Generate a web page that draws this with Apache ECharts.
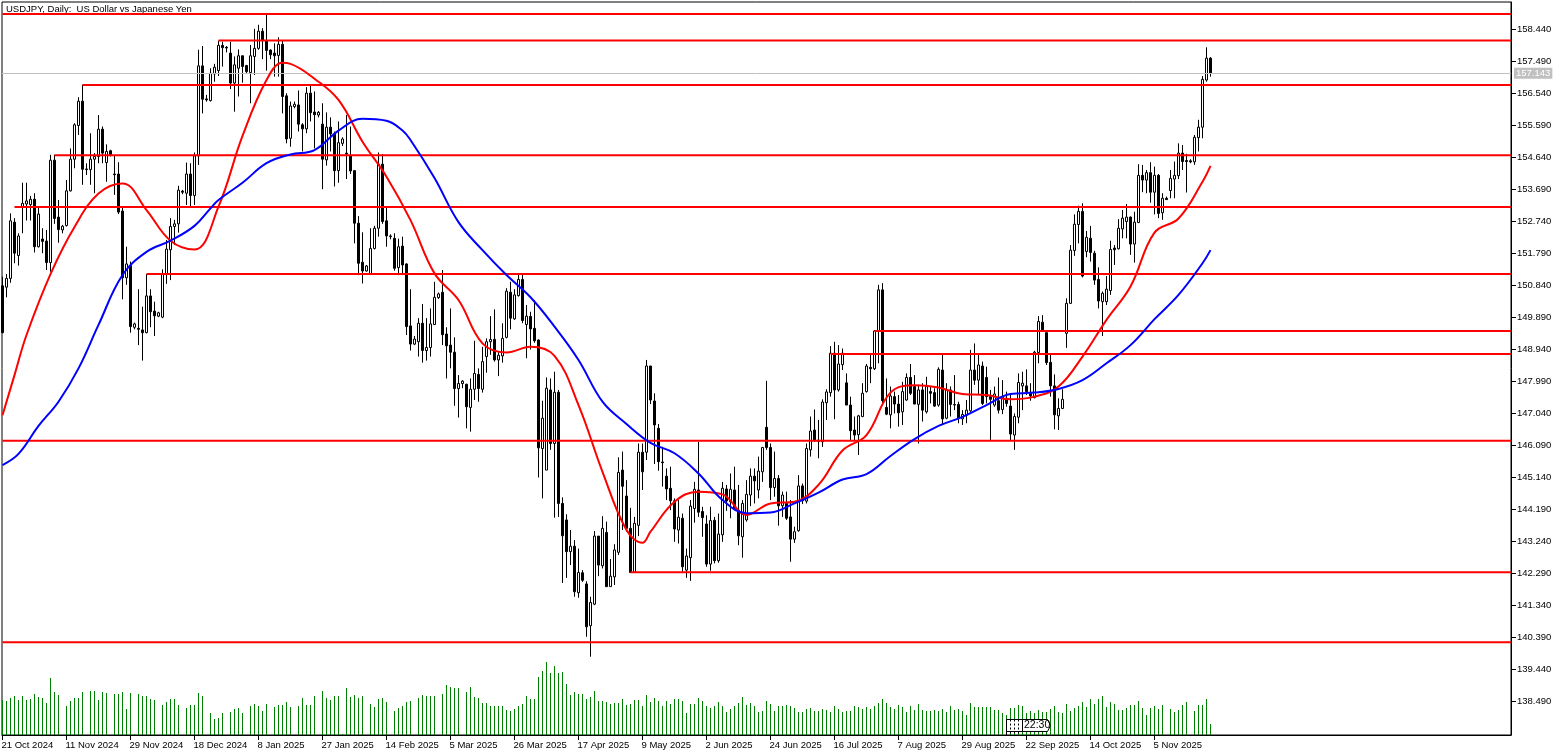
<!DOCTYPE html>
<html>
<head>
<meta charset="utf-8">
<title>USDJPY, Daily</title>
<script src="https://cdn.jsdelivr.net/npm/echarts@6/dist/echarts.min.js"></script>
<style>
  html, body { margin: 0; padding: 0; background: #fff; }
  #chart { width: 1563px; height: 756px; }
</style>
</head>
<body>
<div id="chart"></div>
<script>
const dateTicks = ['21 Oct 2024', '11 Nov 2024', '29 Nov 2024', '18 Dec 2024', '8 Jan 2025', '27 Jan 2025',
  '14 Feb 2025', '5 Mar 2025', '26 Mar 2025', '17 Apr 2025', '9 May 2025', '2 Jun 2025', '24 Jun 2025',
  '16 Jul 2025', '7 Aug 2025', '29 Aug 2025', '22 Sep 2025', '14 Oct 2025', '5 Nov 2025']
const priceTicks = [158.44, 157.49, 156.54, 155.59, 154.64, 153.69, 152.74, 151.79, 150.84, 149.89, 148.94,
  147.99, 147.04, 146.09, 145.14, 144.19, 143.24, 142.29, 141.34, 140.39, 139.44, 138.49]

const opens = [
  150.83, 150.79, 151.05, 152.72, 151.73, 153.16, 153.26, 153.24, 153.40, 151.99,
  152.22, 152.16, 151.52, 154.56, 152.87, 152.49, 152.62, 153.65, 154.59, 155.59,
  156.31, 154.30, 154.28, 154.59, 154.67, 155.48, 154.49, 154.84, 154.15, 154.15,
  153.05, 151.07, 151.43, 149.60, 149.57, 149.52, 149.44, 150.53, 150.08, 149.93,
  149.90, 151.18, 151.90, 152.59, 152.67, 153.64, 153.58, 154.15, 153.51, 154.69,
  157.36, 156.38, 156.33, 157.12, 157.22, 157.97, 157.91, 157.74, 156.85, 157.29,
  157.66, 157.37, 157.16, 157.64, 157.88, 158.39, 158.11, 157.83, 157.74, 157.67,
  158.00, 156.47, 155.21, 156.15, 156.20, 155.61, 155.49, 156.55, 155.99, 155.90,
  155.63, 154.57, 155.54, 155.34, 154.25, 155.06, 154.77, 154.70, 154.25, 152.69,
  151.53, 151.27, 151.18, 151.94, 152.54, 154.44, 152.76, 152.29, 152.24, 151.37,
  152.01, 151.48, 149.64, 149.10, 149.17, 149.72, 148.91, 149.00, 149.68, 150.48,
  150.64, 149.40, 149.07, 148.86, 147.78, 147.93, 147.91, 147.22, 147.76, 148.20,
  147.76, 148.73, 149.17, 149.24, 148.63, 148.75, 149.30, 150.64, 149.85, 150.54,
  151.02, 149.68, 149.92, 149.57, 149.22, 146.00, 145.36, 147.74, 146.15, 147.67,
  144.37, 143.88, 142.94, 143.10, 141.72, 142.31, 141.98, 140.74, 141.38, 143.40,
  142.52, 143.51, 141.90, 142.19, 142.92, 145.36, 144.59, 143.63, 142.32, 143.72,
  145.89, 145.89, 148.45, 147.41, 146.60, 145.60, 145.18, 144.82, 144.45, 143.58,
  143.93, 142.39, 142.76, 144.22, 144.77, 144.13, 143.76, 142.57, 143.87, 142.67,
  143.44, 144.80, 144.42, 144.77, 144.17, 143.38, 143.88, 144.62, 145.18, 144.77,
  145.31, 146.63, 146.03, 144.84, 145.11, 144.30, 144.37, 143.97, 143.31, 143.56,
  144.89, 144.44, 145.96, 146.55, 146.21, 146.20, 147.36, 147.66, 148.83, 147.74,
  148.49, 147.95, 147.29, 146.55, 146.41, 146.95, 147.69, 148.41, 148.37, 149.49,
  150.71, 147.22, 147.00, 147.54, 147.32, 147.09, 147.44, 148.11, 147.84, 147.31,
  147.74, 147.09, 147.69, 147.66, 147.29, 148.33, 146.90, 147.74, 147.29, 147.31,
  146.88, 146.99, 147.12, 148.33, 148.03, 148.45, 148.11, 147.54, 147.29, 147.42,
  147.16, 147.49, 147.26, 146.40, 146.93, 147.86, 147.86, 147.64, 147.51, 148.85,
  149.75, 149.44, 148.56, 147.86, 146.97, 147.19, 149.42, 150.31, 151.88, 152.65,
  153.04, 151.85, 152.24, 151.80, 151.02, 150.36, 150.36, 150.69, 151.95, 151.93,
  152.52, 152.74, 152.87, 152.07, 152.71, 154.11, 153.97, 154.19, 153.61, 154.11,
  153.00, 153.43, 153.66, 154.00, 154.10, 154.77, 154.55, 154.54, 154.51, 155.23,
  155.54, 156.94, 157.59]
const closes = [
  149.44, 151.05, 152.76, 151.80, 152.31, 153.28, 153.35, 153.40, 151.99, 152.96,
  152.15, 151.52, 154.56, 152.83, 152.50, 152.60, 153.65, 154.59, 155.61, 156.31,
  154.29, 154.28, 154.59, 154.67, 155.48, 154.77, 154.82, 154.72, 154.13, 153.02,
  151.07, 151.48, 149.62, 149.70, 149.54, 149.44, 150.53, 150.06, 149.94, 150.03,
  151.18, 151.92, 152.59, 152.67, 153.67, 153.61, 154.15, 153.51, 154.69, 157.36,
  156.37, 156.35, 157.14, 157.32, 157.97, 157.90, 157.89, 156.85, 157.39, 157.66,
  157.34, 157.19, 157.66, 157.88, 158.39, 158.11, 157.82, 157.69, 157.66, 158.00,
  156.45, 155.19, 156.17, 156.22, 155.63, 155.49, 156.55, 155.97, 155.91, 155.98,
  154.59, 155.54, 155.34, 154.25, 155.08, 155.19, 154.75, 154.24, 152.69, 151.50,
  151.27, 151.42, 151.94, 152.54, 154.44, 152.74, 152.31, 152.31, 151.35, 151.99,
  151.45, 149.62, 149.10, 149.25, 149.72, 148.91, 149.00, 149.70, 150.49, 150.59,
  149.38, 149.05, 148.86, 147.78, 147.93, 148.00, 147.24, 147.76, 148.23, 147.78,
  148.58, 149.17, 149.24, 148.63, 148.77, 149.27, 150.67, 149.87, 150.56, 151.02,
  149.80, 149.93, 149.55, 149.20, 146.02, 146.90, 147.79, 146.15, 147.67, 144.37,
  143.41, 142.94, 143.10, 141.75, 142.32, 142.09, 140.71, 141.43, 143.40, 142.54,
  143.63, 141.90, 142.21, 142.99, 145.29, 144.88, 143.63, 142.32, 143.78, 145.89,
  145.31, 148.45, 147.44, 146.70, 145.61, 145.58, 144.80, 144.45, 143.61, 143.96,
  142.49, 142.81, 144.29, 144.79, 144.11, 143.95, 142.57, 143.86, 142.67, 143.46,
  144.82, 144.44, 144.79, 144.22, 143.41, 144.37, 144.64, 145.18, 145.04, 145.33,
  146.03, 146.03, 144.84, 145.11, 144.30, 144.62, 143.93, 143.31, 143.53, 144.89,
  144.45, 146.00, 146.52, 146.23, 146.25, 147.38, 147.68, 148.83, 147.74, 148.51,
  148.83, 147.29, 146.53, 146.40, 146.97, 147.64, 148.45, 148.37, 149.49, 150.71,
  147.42, 147.02, 147.56, 147.32, 147.06, 147.69, 148.11, 147.64, 147.32, 147.74,
  147.14, 147.84, 147.64, 147.26, 148.35, 146.88, 147.74, 147.31, 147.31, 146.90,
  147.01, 147.14, 148.33, 148.03, 148.48, 147.34, 147.54, 147.46, 147.62, 147.14,
  147.54, 147.34, 146.43, 146.95, 147.96, 147.94, 147.69, 147.56, 148.86, 149.77,
  149.52, 148.55, 147.86, 147.00, 147.19, 147.46, 150.31, 151.89, 152.66, 153.04,
  151.12, 152.27, 151.82, 151.00, 150.38, 150.61, 150.73, 151.91, 151.90, 152.54,
  152.84, 152.87, 152.07, 152.72, 154.11, 153.97, 154.19, 153.61, 154.11, 152.98,
  153.43, 153.39, 154.02, 154.11, 154.77, 154.52, 154.52, 154.51, 155.24, 155.54,
  156.96, 157.59, 157.14]
const lows = [
  149.42, 150.49, 150.92, 151.50, 151.43, 152.39, 152.77, 152.77, 151.82, 151.97,
  151.80, 151.30, 151.25, 152.67, 152.11, 152.39, 152.59, 153.63, 154.32, 155.31,
  153.83, 154.12, 153.83, 153.58, 154.47, 154.47, 153.92, 154.67, 153.53, 152.96,
  150.43, 150.86, 149.44, 149.54, 149.07, 148.61, 149.42, 149.60, 149.34, 149.90,
  149.87, 150.89, 151.00, 152.04, 152.41, 153.55, 153.23, 153.18, 153.23, 154.42,
  155.95, 156.30, 156.30, 156.89, 157.06, 157.34, 157.76, 156.67, 156.00, 156.45,
  156.86, 157.14, 156.25, 157.09, 157.84, 157.56, 157.22, 157.56, 157.04, 157.04,
  155.95, 155.06, 154.96, 156.10, 155.41, 154.82, 155.36, 155.71, 154.91, 155.83,
  153.70, 154.40, 154.82, 153.78, 153.89, 154.98, 154.00, 154.15, 152.09, 151.20,
  150.90, 151.25, 151.15, 151.91, 152.29, 152.67, 151.99, 152.21, 151.28, 151.20,
  151.15, 149.37, 148.91, 149.07, 148.73, 148.55, 148.61, 148.73, 149.67, 150.44,
  149.07, 148.08, 148.38, 147.27, 146.92, 147.79, 146.60, 146.50, 147.44, 147.39,
  147.66, 148.25, 148.78, 148.58, 148.15, 148.55, 149.27, 149.54, 149.82, 150.51,
  149.72, 148.68, 148.94, 149.14, 145.14, 144.52, 145.36, 145.96, 143.95, 143.97,
  142.01, 142.16, 142.54, 141.60, 141.57, 142.04, 140.41, 139.82, 141.35, 142.21,
  142.44, 141.90, 141.90, 141.95, 142.84, 143.58, 143.53, 142.32, 142.32, 143.40,
  144.77, 145.66, 147.32, 145.54, 145.34, 144.87, 144.47, 144.17, 143.23, 143.18,
  142.34, 142.16, 142.07, 143.80, 143.97, 143.38, 142.49, 142.37, 142.59, 142.61,
  143.23, 144.15, 143.93, 144.17, 143.13, 142.76, 143.83, 144.29, 144.37, 144.52,
  145.01, 145.96, 144.47, 144.57, 143.71, 143.97, 143.88, 142.64, 143.20, 143.53,
  144.35, 144.37, 145.76, 146.20, 145.71, 146.05, 146.85, 147.54, 146.87, 147.69,
  148.33, 147.29, 146.25, 146.25, 145.81, 146.93, 147.66, 147.94, 148.33, 148.53,
  147.34, 146.99, 146.60, 147.04, 146.65, 146.70, 147.42, 147.59, 147.32, 146.15,
  146.80, 147.04, 147.34, 147.24, 147.24, 146.70, 146.87, 146.95, 147.14, 146.75,
  146.70, 146.75, 147.09, 147.89, 147.59, 147.29, 147.34, 146.25, 147.24, 147.04,
  147.02, 147.24, 146.25, 145.96, 146.75, 147.14, 147.59, 147.42, 147.49, 148.53,
  149.47, 148.48, 147.54, 146.57, 146.55, 147.17, 148.99, 150.29, 151.72, 152.09,
  151.08, 151.68, 151.55, 150.86, 150.16, 149.34, 150.26, 150.56, 151.45, 151.91,
  152.24, 152.24, 151.75, 151.52, 152.69, 153.61, 153.58, 153.30, 152.95, 152.84,
  152.79, 153.38, 153.43, 153.43, 154.00, 154.27, 153.60, 154.47, 154.42, 154.82,
  155.21, 156.89, 157.04]
const highs = [
  151.10, 151.18, 152.98, 152.84, 152.39, 153.89, 153.89, 153.50, 153.58, 153.18,
  152.54, 152.49, 154.72, 154.72, 153.38, 152.64, 153.97, 154.91, 155.66, 156.43,
  156.80, 154.47, 155.36, 154.77, 155.90, 155.56, 155.03, 154.87, 154.72, 154.50,
  153.20, 151.99, 151.55, 149.74, 150.73, 150.21, 151.18, 150.73, 150.36, 150.06,
  151.32, 152.19, 152.84, 152.79, 153.80, 153.68, 154.49, 154.47, 154.79, 157.84,
  157.95, 156.50, 157.29, 157.42, 158.11, 158.08, 157.95, 158.08, 157.64, 157.85,
  157.66, 157.39, 157.98, 158.46, 158.58, 158.48, 158.87, 157.85, 158.03, 158.21,
  158.11, 156.55, 156.30, 156.30, 156.63, 155.66, 156.73, 156.77, 156.60, 156.02,
  156.25, 155.98, 155.83, 155.41, 155.71, 155.24, 155.90, 155.56, 154.27, 152.90,
  152.42, 151.45, 152.54, 152.61, 154.79, 154.74, 153.16, 152.36, 152.39, 152.23,
  152.29, 151.50, 150.73, 149.34, 149.87, 150.29, 149.87, 150.16, 150.95, 150.63,
  151.30, 149.60, 150.16, 149.30, 148.18, 148.03, 147.92, 148.08, 149.20, 148.38,
  149.02, 149.27, 149.93, 150.13, 148.88, 149.72, 150.76, 150.95, 150.73, 151.15,
  151.18, 150.26, 150.06, 150.41, 149.24, 147.42, 148.11, 148.08, 148.28, 147.74,
  144.55, 144.05, 143.58, 143.28, 143.03, 142.39, 142.06, 141.60, 143.55, 143.40,
  143.99, 143.83, 142.72, 143.16, 145.74, 145.91, 145.06, 144.24, 143.97, 146.15,
  146.15, 148.63, 148.45, 147.64, 146.73, 146.05, 145.41, 145.46, 144.52, 144.47,
  144.07, 143.03, 144.47, 145.01, 146.20, 144.27, 144.02, 144.27, 143.97, 144.07,
  145.01, 144.92, 145.26, 145.46, 144.92, 144.47, 145.06, 145.41, 145.41, 145.76,
  146.05, 148.01, 146.15, 145.91, 145.21, 144.72, 144.72, 144.47, 143.68, 145.21,
  144.96, 146.15, 146.95, 147.16, 146.85, 147.46, 147.76, 149.04, 149.17, 149.07,
  148.97, 148.23, 147.54, 146.95, 147.00, 147.94, 148.51, 148.78, 149.52, 150.86,
  150.91, 148.08, 147.84, 147.69, 147.59, 147.98, 148.23, 148.51, 148.18, 147.89,
  147.94, 148.13, 147.84, 147.79, 148.41, 148.78, 147.94, 147.84, 148.18, 147.39,
  147.14, 147.44, 148.93, 149.12, 148.83, 148.58, 148.43, 147.74, 147.84, 148.11,
  148.03, 147.69, 147.59, 147.04, 148.23, 148.28, 148.35, 147.94, 148.90, 149.93,
  149.96, 149.47, 148.78, 148.20, 147.49, 147.76, 150.46, 152.04, 152.95, 153.21,
  153.28, 152.46, 152.61, 151.87, 151.38, 150.66, 151.12, 152.17, 152.04, 152.81,
  153.08, 153.26, 152.89, 153.03, 154.44, 154.42, 154.27, 154.50, 154.37, 154.15,
  153.58, 153.48, 154.27, 154.52, 155.06, 155.01, 154.75, 154.59, 155.31, 155.76,
  157.06, 157.91, 157.62]
const volumes = [
  35, 34, 37, 39, 35, 39, 35, 36, 41, 38, 37, 32, 57, 43, 40, 0, 29, 34, 37, 37,
  43, 0, 44, 44, 35, 43, 42, 0, 41, 41, 43, 26, 42, 1, 41, 39, 39, 36, 35, 0,
  30, 33, 36, 36, 30, 0, 27, 30, 30, 42, 39, 0, 22, 16, 17, 22, 0, 23, 26, 27,
  22, 0, 29, 31, 29, 24, 31, 0, 28, 30, 30, 33, 28, 0, 29, 37, 30, 30, 39, 0,
  44, 37, 35, 39, 39, 1, 47, 38, 40, 37, 39, 0, 31, 28, 36, 37, 33, 0, 24, 27,
  29, 33, 34, 0, 37, 40, 39, 39, 39, 0, 41, 50, 48, 47, 47, 0, 43, 48, 38, 37,
  32, 32, 29, 29, 29, 29, 25, 24, 26, 29, 31, 39, 36, 36, 58, 64, 73, 62, 69, 62,
  63, 51, 40, 43, 41, 41, 36, 38, 44, 34, 34, 33, 31, 32, 32, 36, 30, 31, 35, 35,
  29, 40, 33, 37, 34, 29, 34, 31, 36, 36, 34, 22, 31, 31, 37, 34, 29, 27, 29, 33,
  29, 23, 26, 29, 32, 38, 30, 32, 29, 23, 24, 34, 31, 24, 29, 29, 30, 29, 27, 23,
  23, 26, 27, 24, 24, 26, 25, 23, 29, 26, 23, 24, 24, 29, 28, 26, 28, 26, 29, 32,
  36, 32, 28, 26, 30, 28, 23, 29, 25, 31, 25, 24, 24, 25, 24, 26, 23, 29, 25, 26,
  24, 20, 32, 28, 28, 28, 28, 28, 25, 25, 22, 20, 27, 27, 30, 29, 22, 24, 22, 25,
  23, 23, 26, 29, 23, 22, 31, 24, 27, 29, 33, 28, 36, 31, 36, 39, 28, 33, 31, 25,
  25, 27, 30, 30, 34, 27, 20, 27, 29, 26, 30, 0, 26, 23, 25, 30, 33, 0, 24, 30,
  30, 36, 11]

const redSlots = [0, 3, 6, 12, 18, 24, 30, 36, 42, 48, 54, 60, 66, 70, 72, 78, 84, 90, 96, 102, 108, 114, 120, 126,
  132, 138, 144, 150, 156, 160, 162, 168, 174, 180, 186, 192, 198, 204, 210, 216, 222, 228, 234, 240, 246, 252,
  258, 264, 270, 276, 282, 288, 294, 300, 302]
const redValues = [146.99, 148.18, 149.37, 151.18, 152.58, 153.57, 153.87, 153.08, 152.17, 151.91, 153.18, 155.28,
  156.94, 157.45, 157.42, 156.98, 156.35, 155.11, 154.07, 152.78, 151.20, 150.41, 149.12, 148.85, 149.02, 148.75,
  147.29, 145.31, 143.58, 143.20, 143.53, 144.42, 144.72, 144.64, 144.03, 144.37, 144.42, 144.92, 145.94, 146.40,
  147.66, 147.88, 147.81, 147.62, 147.59, 147.46, 147.54, 147.84, 148.73, 149.82, 150.81, 152.41, 152.83, 153.92,
  154.39]
const blueSlots = [0, 4, 9, 14, 19, 24, 30, 36, 42, 48, 52, 54, 60, 66, 72, 78, 84, 90, 96, 100, 102, 108, 114, 120,
  126, 132, 138, 144, 150, 156, 162, 168, 174, 180, 186, 192, 198, 204, 210, 216, 222, 228, 234, 240, 246, 252,
  258, 264, 270, 276, 282, 288, 294, 300, 302]
const blueValues = [145.51, 145.84, 146.67, 147.39, 148.38, 149.67, 151.15, 151.84, 152.17, 152.61, 153.13, 153.38,
  153.89, 154.47, 154.73, 154.86, 155.44, 155.79, 155.73, 155.44, 155.16, 154.03, 152.72, 151.89, 151.15, 150.49,
  149.62, 148.63, 147.39, 146.73, 146.17, 145.86, 145.26, 144.47, 144.08, 144.10, 144.37, 144.69, 145.08, 145.24,
  145.78, 146.28, 146.67, 146.94, 147.29, 147.62, 147.66, 147.77, 148.03, 148.53, 149.07, 149.84, 150.56, 151.50,
  151.89]

// horizontal levels, each one runs from its start slot to the right edge
const levelPrices = [158.90, 158.11, 156.79, 154.71, 153.17, 151.18, 149.49, 148.81, 146.23, 142.33, 140.25]
const levelStarts = [0, 54, 20, 13, 3, 36, 218, 207, 0, 157, 0]
const lastPrice = 157.143

// x is a value axis in slots: the -0.125 start puts every slot on a half pixel so 1px marks stay crisp
const slotMin = -0.125
const slotMax = 377.125
const dateSlots = dateTicks.map((d, i) => i * 16)

const uiFont = 'Liberation Sans'
const candles = opens.map((o, i) => [i, o, closes[i], lows[i], highs[i]])
const volumeBars = volumes.map((v, i) => [i, v])

const chart = echarts.init(document.getElementById('chart'), null, { renderer: 'canvas' })

const levelSeries = levelPrices.map((p, i) => ({
  type: 'line',
  data: [[levelStarts[i], p], [slotMax, p]],
  showSymbol: false,
  silent: true,
  z: 6,
  lineStyle: { color: '#ff0000', width: 2 }
}))

// the stacked time flags at the bottom, drawn behind the 22:30 one
const flagLines = [1006.5, 1010.5, 1014.5, 1018.5].map((x) => ({
  type: 'line',
  z: 20,
  shape: { x1: x, y1: 719.5, x2: x, y2: 735 },
  style: { stroke: '#000', lineWidth: 1, lineDash: x === 1006.5 ? null : [2, 2] }
}))

chart.setOption({
  animation: false,
  backgroundColor: '#ffffff',
  title: {
    text: 'USDJPY, Daily:  US Dollar vs Japanese Yen',
    left: 6,
    top: 4,
    padding: 0,
    textStyle: { fontFamily: uiFont, fontSize: 9.5, fontWeight: 'normal', color: '#000' }
  },
  grid: {
    left: 2,
    top: 2,
    width: 1509,
    height: 733,
    outerBoundsMode: 'none', // v6 shrinks the grid to fit labels otherwise
    show: true,
    borderColor: '#000',
    borderWidth: 1,
    backgroundColor: 'transparent'
  },
  xAxis: {
    type: 'value',
    min: slotMin,
    max: slotMax,
    containShape: false,
    axisLine: { show: true, onZero: false, lineStyle: { color: '#000', width: 1 } },
    axisTick: { show: true, length: 5, customValues: dateSlots, lineStyle: { color: '#000' } },
    axisLabel: {
      show: true,
      customValues: dateSlots,
      align: 'left',
      margin: 5,
      padding: [0, 0, 0, -1],
      fontFamily: uiFont,
      fontSize: 9.5,
      color: '#000',
      formatter: (v) => dateTicks[Math.round(v / 16)]
    },
    splitLine: { show: false }
  },
  yAxis: [
    {
      type: 'value',
      position: 'right',
      min: 137.4953,
      max: 159.2564,
      scale: true,
      axisLine: { show: true, onZero: false, lineStyle: { color: '#000', width: 1 } },
      axisTick: { show: true, length: 5, customValues: priceTicks, lineStyle: { color: '#000' } },
      axisLabel: {
        show: true,
        customValues: priceTicks,
        margin: 6,
        padding: [2, 0, 0, 0],
        fontFamily: uiFont,
        fontSize: 9.5,
        color: '#000',
        formatter: (v) => v.toFixed(3)
      },
      splitLine: { show: false }
    },
    { type: 'value', min: 0, max: 733, show: false, splitLine: { show: false } }
  ],
  graphic: [
    {
      type: 'rect',
      z: 19,
      shape: { x: 1006.5, y: 719.5, width: 16, height: 12 },
      style: { fill: '#fff', stroke: '#000', lineWidth: 1 }
    },
    ...flagLines,
    {
      type: 'polygon',
      z: 20,
      shape: { points: [[1022.5, 719.5], [1047.5, 719.5], [1050.5, 725.5], [1047.5, 731.5], [1022.5, 731.5]] },
      style: { fill: '#fff', stroke: '#000', lineWidth: 1 }
    },
    {
      type: 'text',
      z: 21,
      left: 1024,
      top: 720,
      style: { text: '22:30', fontFamily: uiFont, fontSize: 10.5, fill: '#000' }
    }
  ],
  series: [
    {
      type: 'line',
      data: [],
      silent: true,
      z: 1,
      markLine: {
        silent: true,
        symbol: 'none',
        animation: false,
        lineStyle: { color: '#c0c0c0', width: 1, type: 'solid' },
        label: {
          position: 'end',
          distance: 3,
          formatter: lastPrice.toFixed(3),
          backgroundColor: '#c0c0c0',
          color: '#fff',
          fontFamily: uiFont,
          fontSize: 9.5,
          padding: [1, 2, 0, 2]
        },
        data: [{ yAxis: lastPrice }]
      }
    },
    {
      type: 'bar',
      yAxisIndex: 1,
      data: volumeBars,
      barWidth: 1,
      silent: true,
      z: 2,
      itemStyle: { color: '#008000' }
    },
    {
      type: 'candlestick',
      data: candles,
      barWidth: 2,
      silent: true,
      z: 3,
      itemStyle: {
        color: '#ffffff',
        color0: '#000000',
        borderColor: '#000000',
        borderColor0: '#000000',
        borderColorDoji: '#000000',
        borderWidth: 1
      }
    },
    ...levelSeries,
    {
      type: 'line',
      data: redSlots.map((s, i) => [s, redValues[i]]),
      showSymbol: false,
      smooth: 0.4,
      silent: true,
      z: 7,
      lineStyle: { color: '#ff0000', width: 2 }
    },
    {
      type: 'line',
      data: blueSlots.map((s, i) => [s, blueValues[i]]),
      showSymbol: false,
      smooth: 0.4,
      silent: true,
      z: 7,
      lineStyle: { color: '#0000ff', width: 2 }
    }
  ]
})
</script>
</body>
</html>
